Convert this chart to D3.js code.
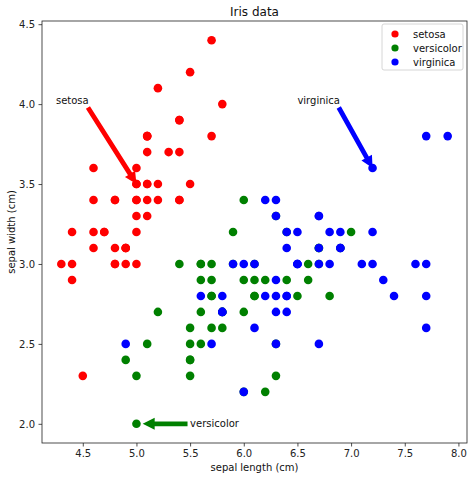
<!DOCTYPE html>
<html>
<head>
<meta charset="utf-8">
<script src="https://cdn.jsdelivr.net/npm/d3@7"></script>
<style>
  body { margin: 0; background: #fff; }
  svg { font-family: "DejaVu Sans", sans-serif; }
</style>
</head>
<body>
<svg width="474" height="479"></svg>
<script>
// iris sepal measurements, one pair of arrays per species
var setosaLength = [5.1,4.9,4.7,4.6,5.0,5.4,4.6,5.0,4.4,4.9,5.4,4.8,4.8,4.3,5.8,5.7,5.4,5.1,5.7,5.1,
    5.4,5.1,4.6,5.1,4.8,5.0,5.0,5.2,5.2,4.7,4.8,5.4,5.2,5.5,4.9,5.0,5.5,4.9,4.4,5.1,
    5.0,4.5,4.4,5.0,5.1,4.8,5.1,4.6,5.3,5.0]
var setosaWidth = [3.5,3.0,3.2,3.1,3.6,3.9,3.4,3.4,2.9,3.1,3.7,3.4,3.0,3.0,4.0,4.4,3.9,3.5,3.8,3.8,
    3.4,3.7,3.6,3.3,3.4,3.0,3.4,3.5,3.4,3.2,3.1,3.4,4.1,4.2,3.1,3.2,3.5,3.1,3.0,3.4,
    3.5,2.3,3.2,3.5,3.8,3.0,3.8,3.2,3.7,3.3]
var versicolorLength = [7.0,6.4,6.9,5.5,6.5,5.7,6.3,4.9,6.6,5.2,5.0,5.9,6.0,6.1,5.6,6.7,5.6,5.8,6.2,5.6,
    5.9,6.1,6.3,6.1,6.4,6.6,6.8,6.7,6.0,5.7,5.5,5.5,5.8,6.0,5.4,6.0,6.7,6.3,5.6,5.5,
    5.5,6.1,5.8,5.0,5.6,5.7,5.7,6.2,5.1,5.7]
var versicolorWidth = [3.2,3.2,3.1,2.3,2.8,2.8,3.3,2.4,2.9,2.7,2.0,3.0,2.2,2.9,2.9,3.1,3.0,2.7,2.2,2.5,
    3.2,2.8,2.5,2.8,2.9,3.0,2.8,3.0,2.9,2.6,2.4,2.4,2.7,2.7,3.0,3.4,3.1,2.3,3.0,2.5,
    2.6,3.0,2.6,2.3,2.7,3.0,2.9,2.9,2.5,2.8]
var virginicaLength = [6.3,5.8,7.1,6.3,6.5,7.6,4.9,7.3,6.7,7.2,6.5,6.4,6.8,5.7,5.8,6.4,6.5,7.7,7.7,6.0,
    6.9,5.6,7.7,6.3,6.7,7.2,6.2,6.1,6.4,7.2,7.4,7.9,6.4,6.3,6.1,7.7,6.3,6.4,6.0,6.9,
    6.7,6.9,5.8,6.8,6.7,6.7,6.3,6.5,6.2,5.9]
var virginicaWidth = [3.3,2.7,3.0,2.9,3.0,3.0,2.5,2.9,2.5,3.6,3.2,2.7,3.0,2.5,2.8,3.2,3.0,3.8,2.6,2.2,
    3.2,2.8,2.8,2.7,3.3,3.2,2.8,3.0,2.8,3.0,2.8,3.8,2.8,2.8,2.6,3.0,3.4,3.1,3.0,3.1,
    3.1,3.1,2.7,3.2,3.3,3.0,2.5,3.0,3.4,3.0]

var speciesNames = ["setosa", "versicolor", "virginica"]
var xTicks = [4.5, 5.0, 5.5, 6.0, 6.5, 7.0, 7.5, 8.0]
var yTicks = [2.0, 2.5, 3.0, 3.5, 4.0, 4.5]

// annotations: label anchor, arrow tail and arrow tip in data units
var annoText  = [[4.25, 4.0], [5.5, 2.0], [6.5, 4.0]]
var annoTail  = [[4.548, 3.979], [5.476, 2.0], [6.885, 3.979]]
var annoTip   = [[5.0, 3.5], [5.058, 2.0], [7.2, 3.6]]

var colors = ["red", "green", "blue"]

function renderViz() {
    var margin = { left: 42, top: 21, right: 7, bottom: 36 }
    var width = 474 - margin.left - margin.right
    var height = 479 - margin.top - margin.bottom

    var svg = d3.select("svg")
    var chart = svg.append("g").attr("transform", `translate(${margin.left},${margin.top})`)

    var xScale = d3.scaleLinear().domain([4.12, 8.08]).range([0, width])
    var yScale = d3.scaleLinear().domain([1.88, 4.52]).range([height, 0])

    var series = [
        d3.zip(setosaLength, setosaWidth),
        d3.zip(versicolorLength, versicolorWidth),
        d3.zip(virginicaLength, virginicaWidth)
    ]

    // points
    series.forEach((pts, i) => {
        chart.append("g")
            .selectAll("circle")
            .data(pts)
            .enter()
            .append("circle")
            .attr("cx", d => xScale(d[0]))
            .attr("cy", d => yScale(d[1]))
            .attr("r", 4.3)
            .attr("fill", colors[i])
    })

    // axes
    var xAxis = chart.append("g")
        .attr("transform", `translate(0,${height})`)
        .call(d3.axisBottom(xScale).tickValues(xTicks).tickFormat(d3.format(".1f")).tickSizeOuter(0).tickSize(3.5).tickPadding(3.5))
    var yAxis = chart.append("g")
        .call(d3.axisLeft(yScale).tickValues(yTicks).tickFormat(d3.format(".1f")).tickSizeOuter(0).tickSize(3.5).tickPadding(3.5))
    ;[xAxis, yAxis].forEach(a => {
        a.select(".domain").remove()
        a.selectAll("text").attr("font-size", 10).attr("fill", "#222").attr("font-family", "DejaVu Sans")
        a.selectAll("line").attr("stroke", "#222").attr("stroke-width", 0.8)
    })

    // frame
    chart.append("rect")
        .attr("width", width).attr("height", height)
        .attr("fill", "none").attr("stroke", "#222").attr("stroke-width", 0.8)

    // annotation arrows
    annoText.forEach((t, i) => {
        var x0 = xScale(annoTail[i][0]), y0 = yScale(annoTail[i][1])
        var x1 = xScale(annoTip[i][0]), y1 = yScale(annoTip[i][1])
        var dx = x1 - x0, dy = y1 - y0
        var len = Math.sqrt(dx * dx + dy * dy)
        var ang = Math.atan2(dy, dx) * 180 / Math.PI
        var sw = 2.4, hw = 6, hl = 12
        var pts = [[0, -sw], [len - hl, -sw], [len - hl, -hw], [len, 0], [len - hl, hw], [len - hl, sw], [0, sw]]
        chart.append("polygon")
            .attr("points", pts.map(p => p.join(",")).join(" "))
            .attr("transform", `translate(${x0},${y0}) rotate(${ang})`)
            .attr("fill", colors[i])

        chart.append("text")
            .attr("x", xScale(t[0]))
            .attr("y", yScale(t[1]))
            .attr("dy", i === 1 ? "0.35em" : "0")
            .attr("font-size", 10)
            .attr("fill", "#111")
            .text(speciesNames[i])
    })

    // legend
    var legend = chart.append("g").attr("transform", `translate(${width - 85},3)`)
    legend.append("rect")
        .attr("width", 81).attr("height", 46).attr("rx", 2)
        .attr("fill", "white").attr("fill-opacity", 0.8)
        .attr("stroke", "#ccc").attr("stroke-width", 0.8)
    speciesNames.forEach((name, i) => {
        legend.append("circle")
            .attr("cx", 13).attr("cy", 10 + i * 14).attr("r", 3.6)
            .attr("fill", colors[i])
        legend.append("text")
            .attr("x", 31).attr("y", 10 + i * 14).attr("dy", "0.35em")
            .attr("font-size", 10).attr("fill", "#111")
            .text(name)
    })

    // labels
    svg.append("text")
        .attr("x", margin.left + width / 2).attr("y", 16)
        .attr("text-anchor", "middle").attr("font-size", 12).attr("fill", "#111")
        .text("Iris data")
    svg.append("text")
        .attr("x", margin.left + width / 2).attr("y", 471)
        .attr("text-anchor", "middle").attr("font-size", 10).attr("fill", "#111")
        .text("sepal length (cm)")
    svg.append("text")
        .attr("transform", `translate(15,${margin.top + height / 2}) rotate(-90)`)
        .attr("text-anchor", "middle").attr("font-size", 10).attr("fill", "#111")
        .text("sepal width (cm)")
}

renderViz()
</script>
</body>
</html>
